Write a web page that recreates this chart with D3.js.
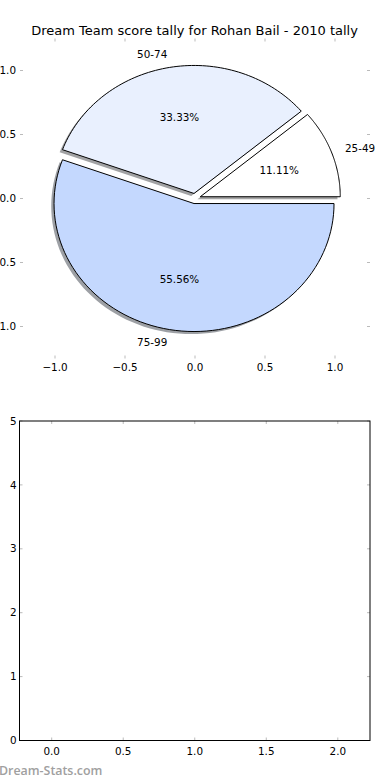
<!DOCTYPE html>
<html><head><meta charset="utf-8">
<script src="https://cdn.jsdelivr.net/npm/d3@7"></script>
<style>body{margin:0;background:#fff;} svg{display:block;font-family:"DejaVu Sans",sans-serif;}</style>
</head><body>
<svg id="c" width="390" height="780"></svg>
<script>
const title = "Dream Team score tally for Rohan Bail - 2010 tally";
const categories = ["25-49", "50-74", "75-99"];
const values = [1, 3, 5];
const colors = ["#ffffff", "#e9f0fe", "#c4d8fe"];
const pieTicks = [-1.0, -0.5, 0.0, 0.5, 1.0];
const barYTicks = [0, 1, 2, 3, 4, 5];
const barXTicks = [0.0, 0.5, 1.0, 1.5, 2.0];
const explode = 0.04;

const svg = d3.select("#c");
const fmt1 = d => (d < 0 ? "\u2212" : "") + Math.abs(d).toFixed(1);

// ---- Pie axes ----
const px = d3.scaleLinear().domain([-1.25, 1.25]).range([20, 370]);
const py = d3.scaleLinear().domain([-1.25, 1.25]).range([358.5, 38.5]);

svg.append("text").attr("x", 194.5).attr("y", 34.5).attr("text-anchor", "middle")
  .attr("font-size", 13).attr("fill", "#000").text(title);

const tickCol = "#bbbbbb";
const g1 = svg.append("g");
pieTicks.forEach(t => {
  g1.append("line").attr("x1", px(t)).attr("x2", px(t)).attr("y1", py(-1.25)).attr("y2", py(-1.25) - 3).attr("stroke", tickCol);
  g1.append("line").attr("x1", px(t)).attr("x2", px(t)).attr("y1", py(1.25)).attr("y2", py(1.25) + 3).attr("stroke", tickCol);
  g1.append("line").attr("y1", py(t)).attr("y2", py(t)).attr("x1", px(-1.25)).attr("x2", px(-1.25) + 3).attr("stroke", tickCol);
  g1.append("line").attr("y1", py(t)).attr("y2", py(t)).attr("x1", px(1.25)).attr("x2", px(1.25) - 3).attr("stroke", tickCol);
  g1.append("text").attr("x", px(t)).attr("y", py(-1.25) + 12).attr("text-anchor", "middle").attr("font-size", 10.4).attr("fill", "#000").text(fmt1(t));
  g1.append("text").attr("x", px(-1.25) - 4).attr("y", py(t)).attr("dy", "0.35em").attr("text-anchor", "end").attr("font-size", 10.4).attr("fill", "#000").text(fmt1(t));
});

const total = d3.sum(values);
let acc = 0;
const slices = values.map((v, i) => {
  const a0 = acc / total * 2 * Math.PI;
  acc += v;
  const a1 = acc / total * 2 * Math.PI;
  return {i, v, a0, a1, mid: (a0 + a1) / 2};
});

function wedgePath(s, dx, dy) {
  const cx = Math.cos(s.mid) * explode + dx, cy = Math.sin(s.mid) * explode + dy;
  const p = d3.path();
  p.moveTo(px(cx), py(cy));
  const n = 80;
  for (let k = 0; k <= n; k++) {
    const a = s.a0 + (s.a1 - s.a0) * k / n;
    p.lineTo(px(cx + Math.cos(a)), py(cy + Math.sin(a)));
  }
  p.closePath();
  return p.toString();
}

slices.forEach(s => {
  const c = d3.rgb(colors[s.i]);
  const sc = d3.rgb(c.r * 0.3, c.g * 0.3, c.b * 0.3);
  g1.append("path").attr("d", wedgePath(s, -0.02, -0.02)).attr("fill", sc).attr("fill-opacity", 0.5).attr("stroke", "none");
  g1.append("path").attr("d", wedgePath(s, 0, 0)).attr("fill", colors[s.i]).attr("stroke", "#000").attr("stroke-width", 1).attr("stroke-linejoin", "miter");
});
slices.forEach(s => {
  const cx = Math.cos(s.mid) * explode, cy = Math.sin(s.mid) * explode;
  const lx = cx + 1.1 * Math.cos(s.mid), ly = cy + 1.1 * Math.sin(s.mid);
  g1.append("text").attr("x", px(lx)).attr("y", py(ly)).attr("dy", "0.35em")
    .attr("text-anchor", lx > 0 ? "start" : "end").attr("font-size", 10.4).attr("fill", "#000").text(categories[s.i]);
  const tx = cx + 0.6 * Math.cos(s.mid), ty = cy + 0.6 * Math.sin(s.mid);
  g1.append("text").attr("x", px(tx)).attr("y", py(ty)).attr("dy", "0.35em")
    .attr("text-anchor", "middle").attr("font-size", 10.4).attr("fill", "#000").text((s.v / total * 100).toFixed(2) + "%");
});

// ---- Empty bar axes ----
const bx = d3.scaleLinear().domain([-0.225, 2.225]).range([19.5, 370]);
const by = d3.scaleLinear().domain([0, 5]).range([740.5, 421]);
const g2 = svg.append("g");
barXTicks.forEach(t => {
  g2.append("line").attr("x1", bx(t)).attr("x2", bx(t)).attr("y1", by(0)).attr("y2", by(0) - 3).attr("stroke", tickCol);
  g2.append("line").attr("x1", bx(t)).attr("x2", bx(t)).attr("y1", by(5)).attr("y2", by(5) + 3).attr("stroke", tickCol);
  g2.append("text").attr("x", bx(t)).attr("y", by(0) + 14).attr("text-anchor", "middle").attr("font-size", 10.4).attr("fill", "#000").text(t.toFixed(1));
});
barYTicks.forEach(t => {
  g2.append("line").attr("y1", by(t)).attr("y2", by(t)).attr("x1", bx(-0.225)).attr("x2", bx(-0.225) + 3).attr("stroke", tickCol);
  g2.append("line").attr("y1", by(t)).attr("y2", by(t)).attr("x1", bx(2.225)).attr("x2", bx(2.225) - 3).attr("stroke", tickCol);
  g2.append("text").attr("x", bx(-0.225) - 3).attr("y", by(t)).attr("dy", "0.35em").attr("text-anchor", "end").attr("font-size", 10.4).attr("fill", "#000").text(t);
});
g2.append("rect").attr("x", bx(-0.225)).attr("y", by(5)).attr("width", bx(2.225) - bx(-0.225)).attr("height", by(0) - by(5))
  .attr("fill", "none").attr("stroke", "#000").attr("stroke-width", 1);

svg.append("text").attr("x", -1).attr("y", 775).attr("font-size", 12.4).attr("font-family", "'Open Sans', sans-serif")
  .attr("fill", "#a0a0a0").attr("font-weight", 600).text("Dream-Stats.com");
</script>
</body></html>
